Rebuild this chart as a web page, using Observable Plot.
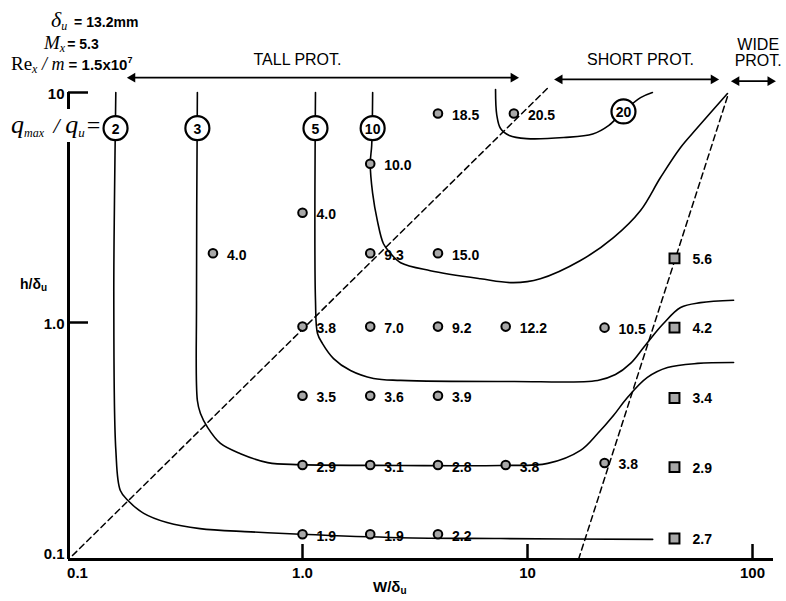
<!DOCTYPE html>
<html><head><meta charset="utf-8">
<script src="https://cdn.jsdelivr.net/npm/d3@7"></script>
<script src="https://cdn.jsdelivr.net/npm/@observablehq/plot@0.6"></script>
<style>body{margin:0;background:#fff} #chart{position:relative;width:786px;height:601px}</style>
</head><body><div id="chart"></div>
<script>
// ---------- data ----------
// measured points (circles): W/δu, h/δu, qmax/qu value
const circleW = [1, 2, 4, 1, 2, 4, 8, 22, 1, 2, 4, 1, 2, 4, 8, 22, 2, 4, 0.4, 1, 2, 4, 8.7];
const circleH = [0.12, 0.12, 0.12, 0.24, 0.24, 0.24, 0.24, 0.245, 0.48, 0.48, 0.48, 0.96, 0.96, 0.96, 0.96, 0.95, 2.0, 2.0, 2.0, 3.0, 4.9, 8.1, 8.1];
const circleQ = ["1.9", "1.9", "2.2", "2.9", "3.1", "2.8", "3.8", "3.8", "3.5", "3.6", "3.9", "3.8", "7.0", "9.2", "12.2", "10.5", "9.3", "15.0", "4.0", "4.0", "10.0", "18.5", "20.5"];
// measured points (squares)
const squareW = [45, 45, 45, 45, 45];
const squareH = [1.9, 0.95, 0.47, 0.235, 0.115];
const squareQ = ["5.6", "4.2", "3.4", "2.9", "2.7"];

// contour lines qmax/qu
const curve2W = [0.148, 0.146, 0.145, 0.148, 0.155, 0.168, 0.197, 0.25, 0.35, 0.59, 0.98, 2.7, 7.6, 36];
const curve2H = [10, 3.4, 1.25, 0.28, 0.186, 0.168, 0.148, 0.135, 0.127, 0.123, 0.12, 0.116, 0.115, 0.114];
const curve3W = [0.341, 0.338, 0.341, 0.352, 0.379, 0.432, 0.53, 0.70, 0.98, 2.73, 7.59, 12.3, 17.2, 20.5, 24.1, 27.8, 34.1, 41.9, 57, 82.4];
const curve3H = [10, 1.25, 0.458, 0.402, 0.349, 0.298, 0.269, 0.246, 0.241, 0.239, 0.239, 0.244, 0.278, 0.329, 0.394, 0.472, 0.577, 0.637, 0.664, 0.67];
const curve5W = [1.142, 1.142, 1.166, 1.227, 1.374, 1.634, 2.07, 2.73, 8.66, 20.5, 24.6, 28.7, 32.8, 37.1, 40.2, 47.9, 58.7, 82.4];
const curve5H = [10, 1.25, 0.896, 0.81, 0.697, 0.618, 0.571, 0.56, 0.554, 0.56, 0.594, 0.664, 0.779, 0.905, 0.99, 1.162, 1.22, 1.25];
const curve10W = [2.05, 2.03, 2.0, 2.05, 2.15, 2.29, 2.46, 2.73, 3.7, 6.18, 8.66, 11.4, 17.2, 24.1, 31.8, 39, 47.9, 57, 77.4];
const curve10H = [10, 5.88, 4.91, 3.64, 2.78, 2.2, 2.0, 1.82, 1.68, 1.55, 1.49, 1.55, 1.86, 2.34, 3.07, 4.27, 5.77, 7.04, 9.9];
const curve20W = [7.21, 7.3, 7.59, 8.3, 9.9, 14.5, 19.5, 23.0, 26.7, 31.8, 35.9];
const curve20H = [10.3, 8.0, 6.97, 6.5, 6.3, 6.37, 6.6, 7.2, 8.27, 9.5, 10.0];
// label positions on contours
const contourQ = ["2", "3", "5", "10", "20"];
const contourW = [0.1476, 0.341, 1.142, 2.05, 26.7];
const contourH = [7.0, 7.0, 7.0, 7.0, 8.27];

// dashed boundaries
const boundary1W = [0.095, 12.6];
const boundary1H = [0.097, 10.7];
const boundary2W = [16.85, 78.2];
const boundary2H = [0.0933, 9.9];

// regime arrows and labels
const regimeName = ["TALL PROT.", "SHORT PROT.", "WIDE\nPROT."];
const regimeW1 = [0.1755, 13.9, 84.9];
const regimeW2 = [8.66, 67.1, 120];
const regimeArrowH = [11.6, 11.4, 11.2];
const regimeLabelW = [0.95, 31.8, 106];
const regimeLabelH = [13.9, 13.9, 14.9];

// axes ticks
const xTicks = [0.1, 1, 10, 100];
const xTickLabels = ["0.1", "1.0", "10", "100"];
const yTicks = [0.1, 1, 10];
const yTickLabels = ["0.1", "1.0", "10"];

// ---------- build tables ----------
const circles = circleW.map((w, i) => ({w, h: circleH[i], q: circleQ[i]}));
const squares = squareW.map((w, i) => ({w, h: squareH[i], q: squareQ[i]}));
const curves = [];
[["2", curve2W, curve2H], ["3", curve3W, curve3H], ["5", curve5W, curve5H], ["10", curve10W, curve10H], ["20", curve20W, curve20H]]
  .forEach(([q, W, H]) => W.forEach((w, i) => curves.push({q, w, h: H[i]})));
const contourLabels = contourQ.map((q, i) => ({q, w: contourW[i], h: contourH[i]}));
const boundaries = [
  ...boundary1W.map((w, i) => ({id: 1, w, h: boundary1H[i]})),
  ...boundary2W.map((w, i) => ({id: 2, w, h: boundary2H[i]}))
];
const regimes = regimeName.map((name, i) => ({name, w1: regimeW1[i], w2: regimeW2[i], ha: regimeArrowH[i], lw: regimeLabelW[i], lh: regimeLabelH[i]}));
const heads = regimes.flatMap(r => [{w: r.w1, h: r.ha, rot: -90}, {w: r.w2, h: r.ha, rot: 90}]);

const xDomain = [10 ** -1.04, 10 ** 2.0933];
const yDomain = [10 ** -1.0304, 10 ** 1.3565];
const SANS = "'Liberation Sans', Arial, Helvetica, sans-serif";
const SERIF = "'Liberation Serif', 'Times New Roman', 'DejaVu Serif', serif";

const plot = Plot.plot({
  width: 786, height: 601,
  marginLeft: 68, marginRight: 13, marginTop: 10, marginBottom: 42,
  x: {type: "log", domain: xDomain, axis: null},
  y: {type: "log", domain: yDomain, axis: null},
  style: {fontFamily: SANS, background: "#fff", color: "#000"},
  marks: [
    // axes lines
    Plot.ruleX([xDomain[0]], {y1: yDomain[0], y2: 10, strokeWidth: 3}),
    Plot.ruleY([yDomain[0]], {x1: xDomain[0], x2: xDomain[1], strokeWidth: 3}),
    Plot.ruleY([1, 10], {x1: xDomain[0], x2: xDomain[0] * 10 ** (20 / 225), strokeWidth: 2.5}),
    Plot.ruleX([1, 10, 100], {y1: yDomain[0], y2: yDomain[0] * 10 ** (15 / 230), strokeWidth: 2.5}),
    Plot.text(xTicks, {x: d => d, frameAnchor: "bottom", dy: 18, text: (d, i) => xTickLabels[i], fontWeight: "bold", fontSize: 15}),
    Plot.text(yTicks, {y: d => d, frameAnchor: "left", dx: -4, dy: 2, textAnchor: "end", text: (d, i) => yTickLabels[i], fontWeight: "bold", fontSize: 15}),
    // dashed regime boundaries
    Plot.line(boundaries, {x: "w", y: "h", z: "id", stroke: "#000", strokeWidth: 1.5, strokeDasharray: "6,4"}),
    // contour lines
    Plot.line(curves, {x: "w", y: "h", z: "q", stroke: "#000", strokeWidth: 1.6, curve: "catmull-rom"}),
    Plot.dot(contourLabels, {x: "w", y: "h", r: 12, fill: "#fff", stroke: "#000", strokeWidth: 2.2}),
    Plot.text(contourLabels, {x: "w", y: "h", text: "q", fontWeight: "bold", fontSize: 14, dy: 1}),
    // data points
    Plot.dot(circles, {x: "w", y: "h", r: 4.3, fill: "#a8a8a8", stroke: "#000", strokeWidth: 2}),
    Plot.dot(squares, {x: "w", y: "h", r: 5.6, symbol: "square", fill: "#a8a8a8", stroke: "#000", strokeWidth: 2}),
    Plot.text(circles, {x: "w", y: "h", text: "q", dx: 14, dy: 2, textAnchor: "start", fontWeight: "bold", fontSize: 14}),
    Plot.text(squares, {x: "w", y: "h", text: "q", dx: 18, dy: 1, textAnchor: "start", fontWeight: "bold", fontSize: 14}),
    // regime arrows
    Plot.link(regimes, {x1: "w1", x2: "w2", y1: "ha", y2: "ha", stroke: "#000", strokeWidth: 1.8}),
    Plot.dot(heads, {x: "w", y: "h", symbol: "triangle", rotate: "rot", r: 3.6, fill: "#000"}),
    Plot.text(regimes, {x: "lw", y: "lh", text: "name", fontSize: 16, lineHeight: 1.05})
  ]
});
document.getElementById("chart").appendChild(plot);

// ---------- rich-text annotations (sub/superscripts) ----------
const svg = d3.select(plot);
const g = svg.append("g").attr("fill", "#000").attr("text-anchor", "start");
function rich(x, y, parts) {
  const t = g.append("text").attr("x", x).attr("y", y).attr("text-anchor", "start");
  for (const p of parts) {
    const s = t.append("tspan").text(p.t).attr("font-family", p.f || SANS).attr("font-size", p.s || 14);
    if (p.i) s.attr("font-style", "italic");
    if (p.b) s.attr("font-weight", "bold");
    if (p.dy) s.attr("dy", p.dy);
    if (p.dx) s.attr("dx", p.dx);
  }
  return t;
}
rich(51, 27, [{t: "δ", f: SERIF, s: 22, i: 1}, {t: "u", f: SERIF, s: 12, i: 1, dy: 3}, {t: " = 13.2mm", s: 14, b: 1, dy: -3, dx: 3}]);
rich(44, 49, [{t: "M", f: SERIF, s: 19, i: 1}, {t: "x", f: SERIF, s: 12, i: 1, dy: 3}, {t: "= 5.3", s: 14, b: 1, dy: -3, dx: 2}]);
rich(11, 70, [{t: "Re", f: SERIF, s: 19}, {t: "x", f: SERIF, s: 12, i: 1, dy: 3}, {t: " / ", f: SERIF, s: 18, i: 1, dy: -3}, {t: "m", f: SERIF, s: 18, i: 1}, {t: " = 1.5x10", s: 15, b: 1}, {t: "7", s: 9, b: 1, dy: -7}]);
const qLab = rich(11, 133, [{t: "q", f: SERIF, s: 26, i: 1}, {t: "max", f: SERIF, s: 12, i: 1, dy: 4}, {t: " / ", f: SERIF, s: 22, i: 1, dy: -4, dx: 4}, {t: "q", f: SERIF, s: 26, i: 1}, {t: "u", f: SERIF, s: 13, i: 1, dy: 4}, {t: "=", f: SERIF, s: 24, dy: -4, dx: 2}]);
const bb = qLab.node().getBBox();
g.insert("rect", () => qLab.node()).attr("x", bb.x).attr("y", bb.y - 1).attr("width", bb.width).attr("height", bb.height + 3).attr("fill", "#fff");
rich(20, 289, [{t: "h/δ", s: 14, b: 1}, {t: "u", s: 10, b: 1, dy: 2}]);
rich(373, 592, [{t: "W/δ", s: 15, b: 1}, {t: "u", s: 10, b: 1, dy: 2}]);
</script>
</body></html>
